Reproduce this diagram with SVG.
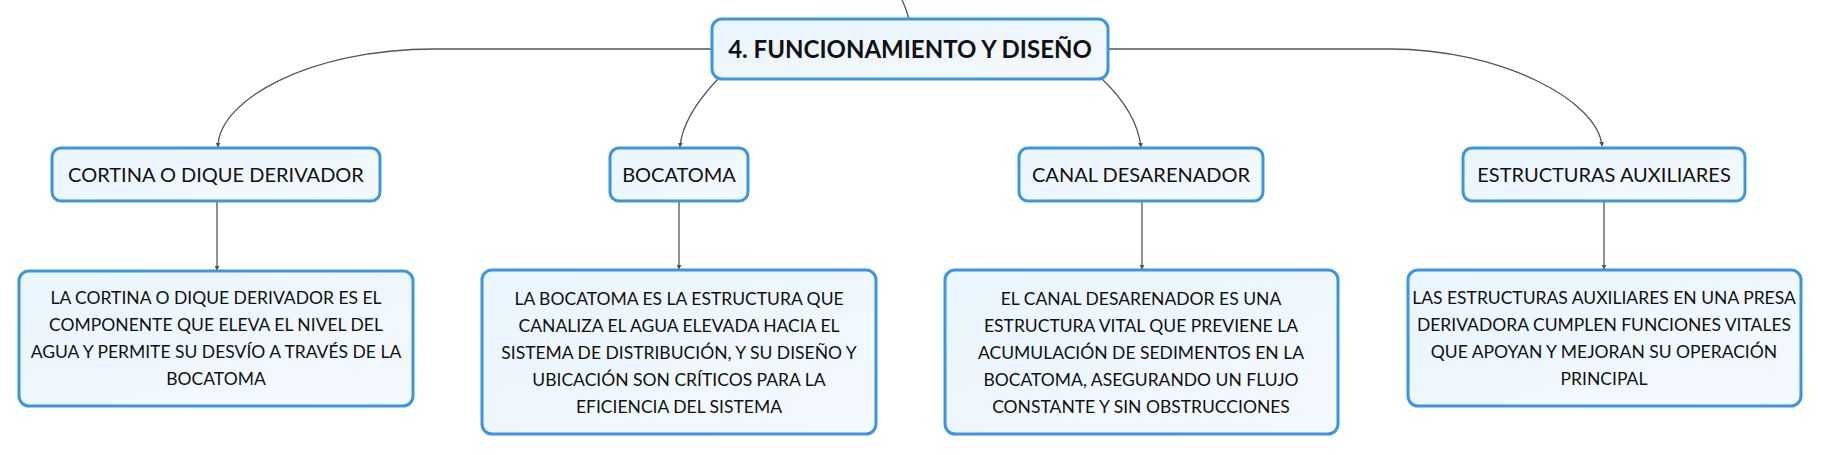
<svg xmlns="http://www.w3.org/2000/svg" width="1821" height="455" viewBox="0 0 1821 455">
<defs>
<linearGradient id="g" x1="0" y1="0" x2="1" y2="1">
<stop offset="0" stop-color="#eaf5fd"/>
<stop offset="1" stop-color="#f4f9fe"/>
</linearGradient>
<marker id="ah" viewBox="0 0 6 6" refX="5" refY="3" markerWidth="5" markerHeight="5" orient="auto" markerUnits="userSpaceOnUse">
<path d="M0,0 L6,3 L0,6 Z" fill="#555"/>
</marker>
<style>
.box{fill:url(#g);stroke:#3a96e0;stroke-width:3}
.c{fill:none;stroke:#555;stroke-width:1.3}
.t{font-family:Lato,"Noto Sans",sans-serif;fill:#111;text-anchor:middle}
.title{font-size:24px;font-weight:bold}
.lbl{font-size:20px}
.d{font-size:17.5px}
</style>
</defs>
<g id="connectors">
<path class="c" d="M900,-4 Q906,7 909,19"/>
<path class="c" d="M712,49 L434,49 C310,49 218,100 218,147" marker-end="url(#ah)"/>
<path class="c" d="M718,79 C700,98 682,122 680,147" marker-end="url(#ah)"/>
<path class="c" d="M1102,79 C1122,98 1138,122 1141,147" marker-end="url(#ah)"/>
<path class="c" d="M1108,49 L1390,49 C1500,49 1598,100 1602,146" marker-end="url(#ah)"/>
<path class="c" d="M217,201 L217,270" marker-end="url(#ah)"/>
<path class="c" d="M679,201 L679,269" marker-end="url(#ah)"/>
<path class="c" d="M1142,201 L1142,269" marker-end="url(#ah)"/>
<path class="c" d="M1604,201 L1604,269" marker-end="url(#ah)"/>
</g>
<g id="n-main">
<rect class="box" x="712" y="19" width="396" height="60" rx="10"/>
<text class="t title" x="910" y="58">4. FUNCIONAMIENTO Y DISEÑO</text>
</g>
<g id="n-cortina">
<rect class="box" x="52" y="148" width="328" height="53" rx="9"/>
<text class="t lbl" x="216" y="182">CORTINA O DIQUE DERIVADOR</text>
</g>
<g id="n-bocatoma">
<rect class="box" x="610" y="148" width="138" height="53" rx="9"/>
<text class="t lbl" x="679" y="182">BOCATOMA</text>
</g>
<g id="n-canal">
<rect class="box" x="1019" y="148" width="244" height="53" rx="9"/>
<text class="t lbl" x="1141" y="182">CANAL DESARENADOR</text>
</g>
<g id="n-estructuras">
<rect class="box" x="1463" y="148" width="282" height="53" rx="9"/>
<text class="t lbl" x="1604" y="182">ESTRUCTURAS AUXILIARES</text>
</g>
<g id="d-cortina">
<rect class="box" x="19" y="271" width="394" height="135" rx="10"/>
<text class="t d" x="216" y="304">LA CORTINA O DIQUE DERIVADOR ES EL</text>
<text class="t d" x="216" y="331">COMPONENTE QUE ELEVA EL NIVEL DEL</text>
<text class="t d" x="216" y="358">AGUA Y PERMITE SU DESVÍO A TRAVÉS DE LA</text>
<text class="t d" x="216" y="385">BOCATOMA</text>
</g>
<g id="d-bocatoma">
<rect class="box" x="482" y="270" width="394" height="164" rx="10"/>
<text class="t d" x="679" y="305">LA BOCATOMA ES LA ESTRUCTURA QUE</text>
<text class="t d" x="679" y="332">CANALIZA EL AGUA ELEVADA HACIA EL</text>
<text class="t d" x="679" y="359">SISTEMA DE DISTRIBUCIÓN, Y SU DISEÑO Y</text>
<text class="t d" x="679" y="386">UBICACIÓN SON CRÍTICOS PARA LA</text>
<text class="t d" x="679" y="413">EFICIENCIA DEL SISTEMA</text>
</g>
<g id="d-canal">
<rect class="box" x="945" y="270" width="393" height="164" rx="10"/>
<text class="t d" x="1141" y="305">EL CANAL DESARENADOR ES UNA</text>
<text class="t d" x="1141" y="332">ESTRUCTURA VITAL QUE PREVIENE LA</text>
<text class="t d" x="1141" y="359">ACUMULACIÓN DE SEDIMENTOS EN LA</text>
<text class="t d" x="1141" y="386">BOCATOMA, ASEGURANDO UN FLUJO</text>
<text class="t d" x="1141" y="413">CONSTANTE Y SIN OBSTRUCCIONES</text>
</g>
<g id="d-estructuras">
<rect class="box" x="1408" y="270" width="393" height="136" rx="10"/>
<text class="t d" x="1604" y="304">LAS ESTRUCTURAS AUXILIARES EN UNA PRESA</text>
<text class="t d" x="1604" y="331">DERIVADORA CUMPLEN FUNCIONES VITALES</text>
<text class="t d" x="1604" y="358">QUE APOYAN Y MEJORAN SU OPERACIÓN</text>
<text class="t d" x="1604" y="385">PRINCIPAL</text>
</g>
</svg>
